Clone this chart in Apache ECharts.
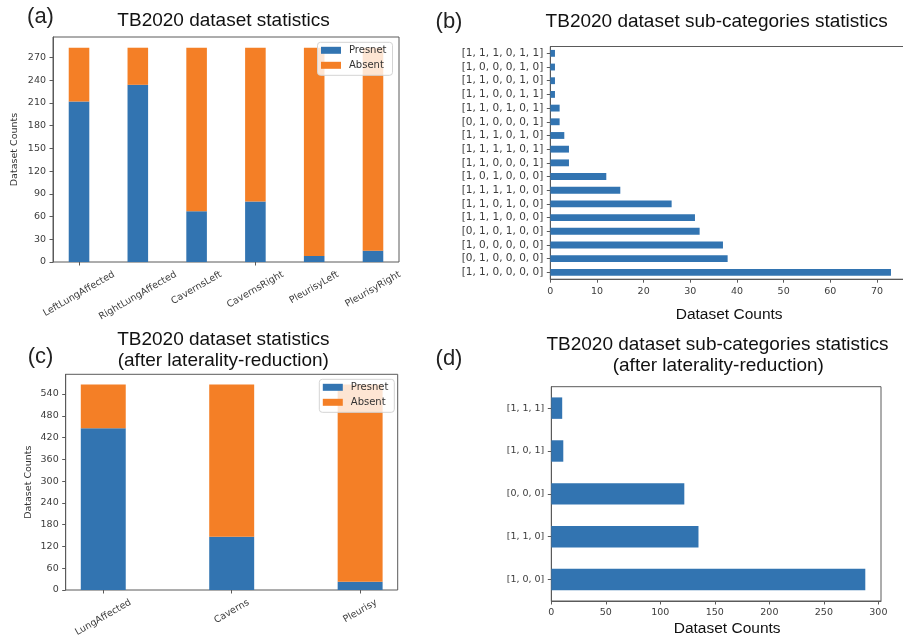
<!DOCTYPE html>
<html><head><meta charset="utf-8">
<script src="https://cdn.jsdelivr.net/npm/echarts@6/dist/echarts.min.js"></script>
<style>html,body{margin:0;padding:0;background:#fff}#c{width:903px;height:642px}</style>
</head><body><div id="c"></div>
<script>
// ---------------- data ----------------
const catsA = ['LeftLungAffected', 'RightLungAffected', 'CavernsLeft', 'CavernsRight', 'PleurisyLeft', 'PleurisyRight'];
const presentA = [212, 234, 67, 80, 8, 15];
const absentA = [71, 49, 216, 203, 275, 268];
const ticksA = [0, 30, 60, 90, 120, 150, 180, 210, 240, 270];

const catsB = ['[1, 1, 0, 0, 0, 0]', '[0, 1, 0, 0, 0, 0]', '[1, 0, 0, 0, 0, 0]', '[0, 1, 0, 1, 0, 0]',
  '[1, 1, 1, 0, 0, 0]', '[1, 1, 0, 1, 0, 0]', '[1, 1, 1, 1, 0, 0]', '[1, 0, 1, 0, 0, 0]',
  '[1, 1, 0, 0, 0, 1]', '[1, 1, 1, 1, 0, 1]', '[1, 1, 1, 0, 1, 0]', '[0, 1, 0, 0, 0, 1]',
  '[1, 1, 0, 1, 0, 1]', '[1, 1, 0, 0, 1, 1]', '[1, 1, 0, 0, 1, 0]', '[1, 0, 0, 0, 1, 0]', '[1, 1, 1, 0, 1, 1]'];
const valuesB = [73, 38, 37, 32, 31, 26, 15, 12, 4, 4, 3, 2, 2, 1, 1, 1, 1];
const ticksB = [0, 10, 20, 30, 40, 50, 60, 70];

const catsC = ['LungAffected', 'Caverns', 'Pleurisy'];
const presentC = [446, 147, 23];
const absentC = [120, 419, 543];
const ticksC = [0, 60, 120, 180, 240, 300, 360, 420, 480, 540];

const catsD = ['[1, 0, 0]', '[1, 1, 0]', '[0, 0, 0]', '[1, 0, 1]', '[1, 1, 1]'];
const valuesD = [288, 135, 122, 11, 10];
const ticksD = [0, 50, 100, 150, 200, 250, 300];

const legendNames = ['Presnet', 'Absent'];
// ---------------- style / layout ----------------
const BLUE = '#3274b1', ORANGE = '#f47f26';
const FRAME = '#5a5a5a', TICKTXT = '#3c3c3c';
const MONO = 'DejaVu Sans', SANS = 'Liberation Sans';

const cv = document.createElement('canvas').getContext('2d');
function tw(t, size) { cv.font = size + 'px "' + MONO + '"'; return cv.measureText(t).width; }

// matplotlib-like bar layout for stacked vertical bars (width 0.35, 5% x margins)
function dataGrid(frame, n, w) {
  const m = 0.05 * (n - 1 + w);
  const span = n - 1 + w + 2 * m;
  const unit = frame.width / span;
  return { left: frame.left + (w / 2 + m - 0.5) * unit, top: frame.top, width: n * unit, height: frame.height, barPx: w * unit };
}
const frameA = { left: 53, top: 37, width: 346, height: 225 };
const frameC = { left: 65.7, top: 374.3, width: 332, height: 215.7 };
const dA = dataGrid(frameA, catsA.length, 0.35);
const dC = dataGrid(frameC, catsC.length, 0.35);
const maxA = 1.05 * Math.max(...presentA.map((v, i) => v + absentA[i]));
const maxC = 1.05 * Math.max(...presentC.map((v, i) => v + absentC[i]));
const maxB = 1.05 * Math.max(...valuesB);
const maxD = 1.05 * Math.max(...valuesD);

const FS = 9.5;
const tickLabel = { fontFamily: MONO, fontSize: FS, color: TICKTXT };
const tickStyle = { show: true, length: 3.5, lineStyle: { color: FRAME, width: 1 } };
const frameGrid = g => Object.assign({ show: true, borderColor: FRAME, borderWidth: 1, backgroundColor: 'transparent', outerBoundsMode: 'none' }, g);
const plainGrid = g => Object.assign({ show: false, outerBoundsMode: 'none' }, g);

const legendBase = {
  orient: 'vertical', itemWidth: 20, itemHeight: 7, itemGap: 3, icon: 'rect',
  padding: [2, 6, 4, 3.5], backgroundColor: 'rgba(255,255,255,0.8)', borderColor: '#d4d4d4', borderWidth: 1, borderRadius: 3,
  textStyle: { fontFamily: MONO, fontSize: 10, color: '#333', lineHeight: 12, padding: [0, 0, 0, 3] },
  data: legendNames, selectedMode: false
};
const txt = (x, y, text, size, family, fill) => ({ type: 'text', x, y, style: { text, fontFamily: family, fontSize: size, fill, align: 'center', verticalAlign: 'middle' } });
const staticGraphics = [
  txt(40.5, 17, '(a)', 22, SANS, '#222'),
  txt(449, 22, '(b)', 22, SANS, '#222'),
  txt(40.5, 357, '(c)', 22, SANS, '#222'),
  txt(449, 358.5, '(d)', 22, SANS, '#222'),
  txt(223.5, 20.5, 'TB2020 dataset statistics', 19, SANS, '#111'),
  txt(716.7, 21.7, 'TB2020 dataset sub-categories statistics', 19, SANS, '#111'),
  txt(223.3, 340, 'TB2020 dataset statistics', 19, SANS, '#111'),
  txt(223.3, 361, '(after laterality-reduction)', 19, SANS, '#111'),
  txt(717.5, 345, 'TB2020 dataset sub-categories statistics', 19, SANS, '#111'),
  txt(718.3, 366, '(after laterality-reduction)', 19, SANS, '#111')
];

const option = {
  animation: false,
  backgroundColor: '#fff',
  grid: [
    frameGrid(frameA),
    plainGrid({ left: dA.left, top: dA.top, width: dA.width, height: dA.height }),
    frameGrid({ left: 550.3, top: 46.5, width: 357.7, height: 232.7 }),
    frameGrid(frameC),
    plainGrid({ left: dC.left, top: dC.top, width: dC.width, height: dC.height }),
    frameGrid({ left: 551.3, top: 386.7, width: 329.7, height: 214.3 })
  ],
  xAxis: [
    { gridIndex: 0, type: 'value', show: false, min: 0, max: 1 },
    { gridIndex: 1, type: 'category', data: catsA, axisLine: { show: false },
      axisTick: Object.assign({ alignWithLabel: true }, tickStyle),
      axisLabel: { show: false } },
    { gridIndex: 2, type: 'value', min: 0, max: maxB, splitLine: { show: false },
      axisLine: { show: true, lineStyle: { color: FRAME } },
      axisTick: Object.assign({ customValues: ticksB }, tickStyle),
      axisLabel: Object.assign({ customValues: ticksB, margin: 7.5 }, tickLabel),
      name: 'Dataset Counts', nameLocation: 'middle', nameGap: 28,
      nameTextStyle: { fontFamily: SANS, fontSize: 15.5, color: '#111' } },
    { gridIndex: 3, type: 'value', show: false, min: 0, max: 1 },
    { gridIndex: 4, type: 'category', data: catsC, axisLine: { show: false },
      axisTick: Object.assign({ alignWithLabel: true }, tickStyle),
      axisLabel: { show: false } },
    { gridIndex: 5, type: 'value', min: 0, max: maxD, splitLine: { show: false },
      axisLine: { show: true, lineStyle: { color: FRAME } },
      axisTick: Object.assign({ customValues: ticksD }, tickStyle),
      axisLabel: Object.assign({ customValues: ticksD, margin: 7 }, tickLabel),
      name: 'Dataset Counts', nameLocation: 'middle', nameGap: 20,
      nameTextStyle: { fontFamily: SANS, fontSize: 15.5, color: '#111', padding: [0, 0, 0, 22] } }
  ],
  yAxis: [
    { gridIndex: 0, type: 'value', min: 0, max: maxA, splitLine: { show: false },
      axisLine: { show: true, lineStyle: { color: FRAME } },
      axisTick: Object.assign({ customValues: ticksA }, tickStyle),
      axisLabel: Object.assign({ customValues: ticksA, margin: 7 }, tickLabel),
      name: 'Dataset Counts', nameLocation: 'middle', nameGap: 33, nameRotate: 90,
      nameTextStyle: { fontFamily: MONO, fontSize: 9.5, color: '#333' } },
    { gridIndex: 1, type: 'value', show: false, min: 0, max: maxA },
    { gridIndex: 2, type: 'category', data: catsB,
      axisLine: { show: true, lineStyle: { color: FRAME } },
      axisTick: Object.assign({ alignWithLabel: true }, tickStyle),
      axisLabel: Object.assign({}, tickLabel, { interval: 0, fontSize: 10.5, margin: 7 }) },
    { gridIndex: 3, type: 'value', min: 0, max: maxC, splitLine: { show: false },
      axisLine: { show: true, lineStyle: { color: FRAME } },
      axisTick: Object.assign({ customValues: ticksC }, tickStyle),
      axisLabel: Object.assign({ customValues: ticksC, margin: 7 }, tickLabel),
      name: 'Dataset Counts', nameLocation: 'middle', nameGap: 32, nameRotate: 90,
      nameTextStyle: { fontFamily: MONO, fontSize: 9.5, color: '#333' } },
    { gridIndex: 4, type: 'value', show: false, min: 0, max: maxC },
    { gridIndex: 5, type: 'category', data: catsD,
      axisLine: { show: true, lineStyle: { color: FRAME } },
      axisTick: Object.assign({ alignWithLabel: true }, tickStyle),
      axisLabel: Object.assign({}, tickLabel, { interval: 0, fontSize: 9.5, margin: 7 }) }
  ],
  legend: [
    Object.assign({ left: 317.5, top: 42.3 }, legendBase),
    Object.assign({ left: 319.3, top: 379.3 }, legendBase)
  ],
  series: [
    { type: 'bar', name: 'Presnet', xAxisIndex: 1, yAxisIndex: 1, stack: 'a', data: presentA, barWidth: dA.barPx, itemStyle: { color: BLUE } },
    { type: 'bar', name: 'Absent', xAxisIndex: 1, yAxisIndex: 1, stack: 'a', data: absentA, barWidth: dA.barPx, itemStyle: { color: ORANGE } },
    { type: 'bar', name: 'countsB', xAxisIndex: 2, yAxisIndex: 2, data: valuesB, barWidth: '50%', itemStyle: { color: BLUE } },
    { type: 'bar', name: 'Presnet', xAxisIndex: 4, yAxisIndex: 4, stack: 'c', data: presentC, barWidth: dC.barPx, itemStyle: { color: BLUE } },
    { type: 'bar', name: 'Absent', xAxisIndex: 4, yAxisIndex: 4, stack: 'c', data: absentC, barWidth: dC.barPx, itemStyle: { color: ORANGE } },
    { type: 'bar', name: 'countsD', xAxisIndex: 5, yAxisIndex: 5, data: valuesD, barWidth: '50%', itemStyle: { color: BLUE } }
  ],
  graphic: staticGraphics
};
const chart = echarts.init(document.getElementById('c'), null, { renderer: 'canvas' });
chart.setOption(option);

// matplotlib-style rotated tick labels (centered under each tick), positioned via the axis scale
function rotLabels(cats, xAxisIndex, axisY) {
  return cats.map((c, i) => {
    const W = tw(c, FS);
    const x = chart.convertToPixel({ xAxisIndex: xAxisIndex }, i);
    const y = axisY + 7 + 0.25 * W + 0.433 * 11;
    return { type: 'text', x: x, y: y, rotation: Math.PI / 6,
      style: { text: c, fontFamily: MONO, fontSize: FS, fill: TICKTXT, align: 'center', verticalAlign: 'middle' } };
  });
}
chart.setOption({ graphic: staticGraphics
  .concat(rotLabels(catsA, 1, frameA.top + frameA.height))
  .concat(rotLabels(catsC, 4, frameC.top + frameC.height)) });
</script></body></html>
